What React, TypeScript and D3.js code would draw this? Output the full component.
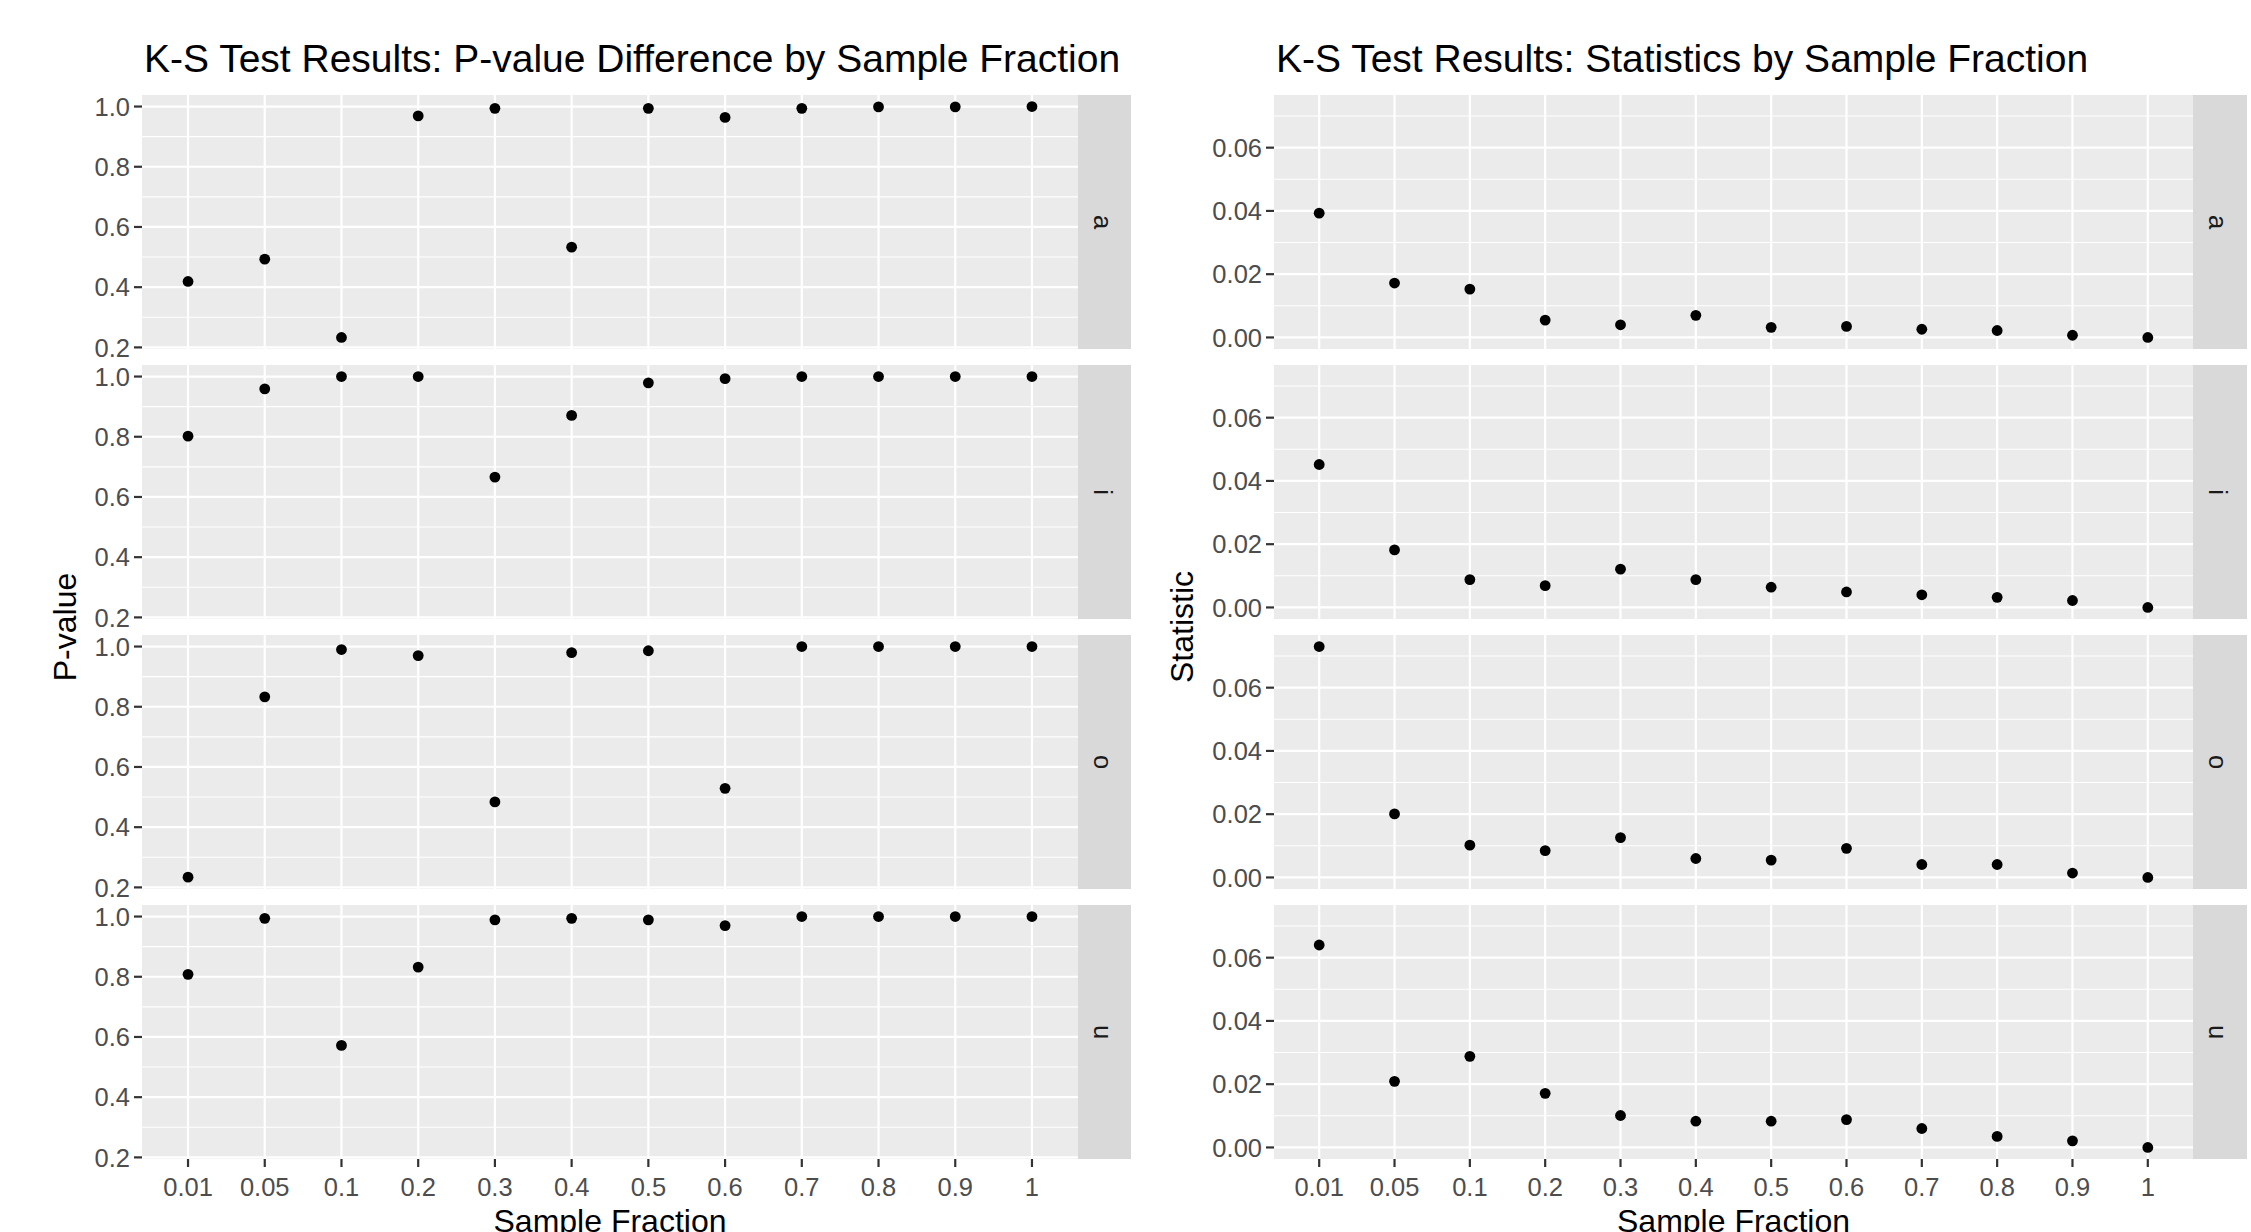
import React from "react";
import * as d3 from "d3";

const fractions = ["0.01", "0.05", "0.1", "0.2", "0.3", "0.4", "0.5", "0.6", "0.7", "0.8", "0.9", "1"];
const vowels = ["a", "i", "o", "u"];

const pvalA = [0.419, 0.493, 0.233, 0.969, 0.994, 0.533, 0.994, 0.964, 0.994, 0.999, 0.999, 1.0];
const pvalI = [0.802, 0.959, 1.0, 1.0, 0.666, 0.871, 0.979, 0.993, 1.0, 1.0, 1.0, 1.0];
const pvalO = [0.234, 0.833, 0.99, 0.97, 0.484, 0.98, 0.986, 0.529, 1.0, 1.0, 1.0, 1.0];
const pvalU = [0.808, 0.994, 0.572, 0.832, 0.989, 0.994, 0.989, 0.97, 1.0, 1.0, 1.0, 1.0];

const statA = [0.0393, 0.0172, 0.0153, 0.0055, 0.004, 0.007, 0.0032, 0.0035, 0.0026, 0.0022, 0.0007, 0.0];
const statI = [0.0452, 0.0182, 0.0088, 0.0069, 0.0121, 0.0088, 0.0064, 0.0049, 0.004, 0.0032, 0.0022, 0.0];
const statO = [0.073, 0.0201, 0.0102, 0.0085, 0.0126, 0.006, 0.0055, 0.0092, 0.0041, 0.0041, 0.0014, 0.0];
const statU = [0.064, 0.0209, 0.0288, 0.0171, 0.0101, 0.0083, 0.0083, 0.0088, 0.006, 0.0035, 0.0021, 0.0];

const pTicks = [0.2, 0.4, 0.6, 0.8, 1.0];
const pMinor = [0.3, 0.5, 0.7, 0.9];
const sTicks = [0.0, 0.02, 0.04, 0.06];
const sMinor = [0.01, 0.03, 0.05, 0.07];

const FONT = "'Liberation Sans', Arial, Helvetica, sans-serif";
const PANEL_TOP = 95;
const PANEL_PITCH = 270;
const PANEL_H = 254;

type PlotCfg = {
  title: string;
  yTitle: string;
  series: number[][];
  ticks: number[];
  minor: number[];
  fmt: (v: number) => string;
  x0: number;
  x1: number;
  stripW: number;
  yTitleX: number;
};

function FacetPlot({ cfg }: { cfg: PlotCfg }) {
  const all = cfg.series.flat();
  const lo = d3.min(all) as number;
  const hi = d3.max(all) as number;
  const r = hi - lo;
  const domain: [number, number] = [lo - 0.05 * r, hi + 0.05 * r];
  const x = d3.scalePoint<string>().domain(fractions).range([cfg.x0, cfg.x1]).padding(0.6);
  const lastBottom = PANEL_TOP + (vowels.length - 1) * PANEL_PITCH + PANEL_H;
  const midY = (PANEL_TOP + lastBottom) / 2;

  return (
    <g>
      <text x={cfg.x0 + 2} y={72} fontSize={39} fill="#000" fontFamily={FONT}>
        {cfg.title}
      </text>
      {vowels.map((v, i) => {
        const top = PANEL_TOP + i * PANEL_PITCH;
        const y = d3.scaleLinear().domain(domain).range([top + PANEL_H, top]);
        const vals = cfg.series[i];
        return (
          <g key={v}>
            <rect x={cfg.x0} y={top} width={cfg.x1 - cfg.x0} height={PANEL_H} fill="#EBEBEB" />
            {cfg.minor
              .filter((t) => t >= domain[0] && t <= domain[1])
              .map((t) => (
                <line key={"mn" + t} x1={cfg.x0} x2={cfg.x1} y1={y(t)} y2={y(t)} stroke="#fff" strokeWidth={1.1} />
              ))}
            {cfg.ticks.map((t) => (
              <line key={"mj" + t} x1={cfg.x0} x2={cfg.x1} y1={y(t)} y2={y(t)} stroke="#fff" strokeWidth={2.2} />
            ))}
            {fractions.map((f) => (
              <line key={"vx" + f} x1={x(f)} x2={x(f)} y1={top} y2={top + PANEL_H} stroke="#fff" strokeWidth={2.2} />
            ))}
            {cfg.ticks.map((t) => (
              <g key={"tk" + t}>
                <line x1={cfg.x0 - 8} x2={cfg.x0} y1={y(t)} y2={y(t)} stroke="#333333" strokeWidth={2.2} />
                <text
                  x={cfg.x0 - 12}
                  y={y(t)}
                  dy="0.36em"
                  textAnchor="end"
                  fontSize={25.5}
                  fill="#4D4D4D"
                  fontFamily={FONT}
                >
                  {cfg.fmt(t)}
                </text>
              </g>
            ))}
            {vals.map((val, j) => (
              <circle key={"pt" + j} cx={x(fractions[j])} cy={y(val)} r={5.4} fill="#000" />
            ))}
            <rect x={cfg.x1} y={top} width={cfg.stripW} height={PANEL_H} fill="#D9D9D9" />
            <text
              transform={`translate(${cfg.x1 + cfg.stripW / 2},${top + PANEL_H / 2}) rotate(90)`}
              y={11}
              textAnchor="middle"
              fontSize={25.5}
              fill="#1A1A1A"
              fontFamily={FONT}
            >
              {v}
            </text>
          </g>
        );
      })}
      {fractions.map((f) => (
        <g key={"xt" + f}>
          <line x1={x(f)} x2={x(f)} y1={lastBottom} y2={lastBottom + 8} stroke="#333333" strokeWidth={2.2} />
          <text x={x(f)} y={lastBottom + 37} textAnchor="middle" fontSize={25.5} fill="#4D4D4D" fontFamily={FONT}>
            {f}
          </text>
        </g>
      ))}
      <text
        x={(cfg.x0 + cfg.x1) / 2}
        y={1232}
        textAnchor="middle"
        fontSize={32}
        fill="#000"
        fontFamily={FONT}
      >
        Sample Fraction
      </text>
      <text
        transform={`translate(${cfg.yTitleX},${midY}) rotate(-90)`}
        textAnchor="middle"
        fontSize={32}
        fill="#000"
        fontFamily={FONT}
      >
        {cfg.yTitle}
      </text>
    </g>
  );
}

export default function App() {
  const left: PlotCfg = {
    title: "K-S Test Results: P-value Difference by Sample Fraction",
    yTitle: "P-value",
    series: [pvalA, pvalI, pvalO, pvalU],
    ticks: pTicks,
    minor: pMinor,
    fmt: d3.format(".1f"),
    x0: 142,
    x1: 1078,
    stripW: 53,
    yTitleX: 76,
  };
  const right: PlotCfg = {
    title: "K-S Test Results: Statistics by Sample Fraction",
    yTitle: "Statistic",
    series: [statA, statI, statO, statU],
    ticks: sTicks,
    minor: sMinor,
    fmt: d3.format(".2f"),
    x0: 1274,
    x1: 2193,
    stripW: 54,
    yTitleX: 1193,
  };
  return (
    <svg
      width={2251}
      height={1232}
      style={{ position: "fixed", left: 0, top: 0, background: "#fff" }}
      xmlns="http://www.w3.org/2000/svg"
    >
      <rect x={0} y={0} width={2251} height={1232} fill="#fff" />
      <FacetPlot cfg={left} />
      <FacetPlot cfg={right} />
    </svg>
  );
}
